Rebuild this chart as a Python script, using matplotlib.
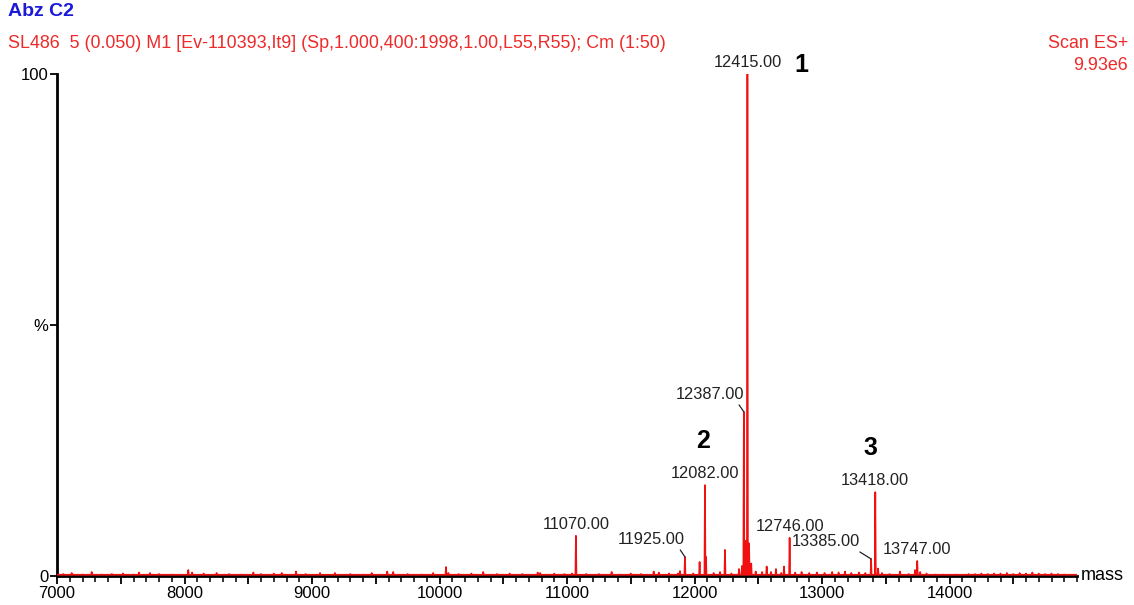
import matplotlib.pyplot as plt
from matplotlib.ticker import MultipleLocator

plt.rcParams['font.family'] = ['Liberation Sans', 'DejaVu Sans']

# --- peak list (mass, % intensity) ---
peak_mass = [
    7050, 7115, 7200, 7272, 7350, 7430, 7518, 7600, 7643, 7730, 7800, 7900,
    8030, 8060, 8150, 8252, 8350, 8450, 8540, 8600, 8700, 8762, 8875, 8950,
    9063, 9180, 9300, 9400, 9468, 9590, 9637, 9750, 9860, 9950, 10051, 10070,
    10150, 10250, 10343, 10450, 10550, 10650, 10770, 10790, 10900, 10980, 11040,
    11070, 11150, 11250, 11350, 11420, 11500, 11580, 11680, 11720, 11800, 11870,
    11886, 11925, 11990, 12040, 12082, 12090, 12150, 12200, 12239, 12290, 12349,
    12372, 12387, 12400, 12415, 12428, 12445, 12480, 12530, 12566, 12600, 12639,
    12680, 12702, 12746, 12790, 12840, 12900, 12960, 13020, 13080, 13130, 13180,
    13230, 13290, 13340, 13385, 13418, 13440, 13470, 13530, 13612, 13680, 13730,
    13747, 13770, 13820, 13890, 13950, 14050, 14150, 14200, 14250, 14300, 14350,
    14400, 14450, 14500, 14550, 14600, 14650, 14700, 14750, 14800, 14850, 14900,
]
peak_int = [
    0.4, 0.6, 0.3, 0.8, 0.3, 0.4, 0.5, 0.3, 0.7, 0.6, 0.4, 0.3,
    1.2, 0.7, 0.5, 0.6, 0.4, 0.3, 0.7, 0.4, 0.5, 0.6, 0.9, 0.4,
    0.6, 0.6, 0.4, 0.3, 0.6, 0.9, 0.8, 0.4, 0.3, 0.6, 1.8, 0.6,
    0.4, 0.5, 0.8, 0.4, 0.5, 0.4, 0.7, 0.6, 0.5, 0.4, 0.5,
    8.0, 0.4, 0.4, 0.8, 0.3, 0.5, 0.4, 0.9, 0.7, 0.5, 0.5,
    1.0, 3.8, 0.5, 2.8, 18.1, 3.8, 0.6, 0.8, 5.2, 0.5, 1.4,
    2.0, 32.7, 7.0, 100.0, 6.5, 2.5, 0.9, 0.8, 1.9, 0.8, 1.4,
    0.6, 1.9, 7.6, 0.7, 0.8, 0.6, 0.7, 0.6, 0.8, 0.7, 0.9,
    0.6, 0.7, 0.6, 3.4, 16.7, 1.5, 0.6, 0.4, 0.9, 0.4, 1.2,
    3.0, 0.8, 0.5, 0.3, 0.3, 0.3, 0.4, 0.4, 0.5, 0.4, 0.5,
    0.5, 0.6, 0.4, 0.6, 0.5, 0.7, 0.5, 0.4, 0.5, 0.4, 0.3,
]

# labelled peaks: plain labels sit centred above the peak, leader ones are pulled left
label_mass = [12415, 12082, 11070, 12746, 13418, 13747]
label_int = [100.0, 18.1, 8.0, 7.6, 16.7, 3.0]
leader_mass = [12387, 11925, 13385]
leader_int = [32.7, 3.8, 3.4]
leader_dx = [0, 0, -8]   # horizontal text offset in points

# compound numbers
cmpd_text = ['1', '2', '3']
cmpd_mass = [12840, 12070, 13380]
cmpd_int = [99.5, 24.6, 23.1]

baseline = 0.25
half_w = 4

xs, ys = [7000], [baseline]
for m, h in sorted(zip(peak_mass, peak_int)):
    xs += [m - half_w, m, m + half_w]
    ys += [baseline, h, baseline]
xs.append(15000)
ys.append(baseline)

fig = plt.figure(figsize=(11.34, 6.05), dpi=100)
ax = fig.add_axes([57 / 1134, 29 / 605, 1020 / 1134, 502 / 605])

ax.plot(xs, ys, color='#f01010', lw=1.2, zorder=3)

ax.set_xlim(7000, 15000)
ax.set_ylim(0, 100)
ax.spines['top'].set_visible(False)
ax.spines['right'].set_visible(False)
ax.spines['left'].set_linewidth(2)
ax.spines['bottom'].set_linewidth(2)
ax.spines['bottom'].set_zorder(2)

ax.xaxis.set_minor_locator(MultipleLocator(100))
ax.set_xticks(range(7000, 15000, 500))
ax.set_xticklabels([str(t) if t % 1000 == 0 else '' for t in range(7000, 15000, 500)])
ax.tick_params(axis='x', which='major', length=6, width=1.3, labelsize=12, pad=1)
ax.tick_params(axis='x', which='minor', length=4, width=1.1)
ax.set_yticks([0, 50, 100])
ax.set_yticklabels(['0', '%', '100'])
ax.tick_params(axis='y', length=5, width=1.3, labelsize=12, pad=1)

ax.text(1.004, 0.0, 'mass', transform=ax.transAxes, fontsize=13, va='center', ha='left')

txt_col = '#222222'
for m, h in zip(label_mass, label_int):
    ax.annotate(f'{m:.2f}', xy=(m, h), xytext=(0, 3), textcoords='offset points',
                ha='center', va='bottom', fontsize=11.8, color=txt_col)
for m, h, dx in zip(leader_mass, leader_int, leader_dx):
    ax.annotate(f'{m:.2f}', xy=(m, h), xytext=(dx, 7), textcoords='offset points',
                ha='right', va='bottom', fontsize=11.8, color=txt_col,
                arrowprops=dict(arrowstyle='-', color=txt_col, lw=0.9,
                                shrinkA=0, shrinkB=0, relpos=(0.88, 0.15)))

for t, m, h in zip(cmpd_text, cmpd_mass, cmpd_int):
    ax.text(m, h, t, ha='center', va='bottom', fontsize=18, fontweight='bold', color='black')

# header texts
fig.text(8 / 1134, 1 - 12 / 605, 'Abz C2', color='#1a1ad8', fontsize=14,
         fontweight='bold', va='center', ha='left')
fig.text(8 / 1134, 1 - 44 / 605,
         'SL486  5 (0.050) M1 [Ev-110393,It9] (Sp,1.000,400:1998,1.00,L55,R55); Cm (1:50)',
         color='#ee2a2a', fontsize=12.9, va='center', ha='left')
fig.text(1128 / 1134, 1 - 44 / 605, 'Scan ES+', color='#ee2a2a', fontsize=12.9,
         va='center', ha='right')
fig.text(1128 / 1134, 1 - 66 / 605, '9.93e6', color='#ee2a2a', fontsize=12.9,
         va='center', ha='right')

fig.savefig('out.png', dpi=100)
